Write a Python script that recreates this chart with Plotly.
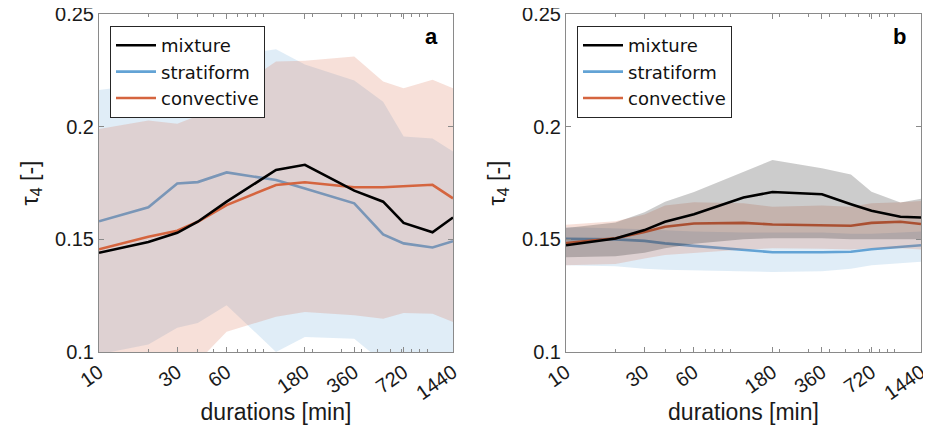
import plotly.graph_objects as go

# ---------------- data ----------------
durations = [10, 20, 30, 40, 60, 120, 180, 360, 540, 720, 1080, 1440]
tick_vals = [10, 30, 60, 180, 360, 720, 1440]
tick_text = ["10", "30", "60", "180", "360", "720", "1440"]
minor_vals = [20, 40, 50, 70, 80, 90, 100, 200, 300, 400, 500, 600, 700, 800, 900, 1000]
y_ticks = [0.1, 0.15, 0.2, 0.25]
y_tick_text = ["0.1", "0.15", "0.2", "0.25"]

# panel a
a_mix = [0.1440, 0.1488, 0.1529, 0.1578, 0.1667, 0.1808, 0.1831, 0.1716, 0.1667, 0.1573, 0.1531, 0.1597]
a_strat = [0.1580, 0.1642, 0.1748, 0.1754, 0.1797, 0.1763, 0.1726, 0.1660, 0.1522, 0.1482, 0.1464, 0.1492]
a_strat_hi = [0.2163, 0.2190, 0.2220, 0.2260, 0.2310, 0.2344, 0.2276, 0.2205, 0.2111, 0.1956, 0.1948, 0.1890]
a_strat_lo = [0.0990, 0.1033, 0.1108, 0.1129, 0.1208, 0.1000, 0.1067, 0.1059, 0.0954, 0.0950, 0.0930, 0.0940]
a_conv = [0.1456, 0.1511, 0.1538, 0.1578, 0.1652, 0.1741, 0.1753, 0.1731, 0.1731, 0.1735, 0.1742, 0.1682]
a_conv_hi = [0.1990, 0.2027, 0.2013, 0.2048, 0.2140, 0.2289, 0.2293, 0.2311, 0.2200, 0.2171, 0.2208, 0.2171]
a_conv_lo = [0.0950, 0.0970, 0.0980, 0.0957, 0.1090, 0.1156, 0.1178, 0.1163, 0.1148, 0.1173, 0.1170, 0.1133]

# panel b
b_mix = [0.1474, 0.1504, 0.1541, 0.1578, 0.1611, 0.1686, 0.1710, 0.1700, 0.1656, 0.1627, 0.1600, 0.1597]
b_mix_hi = [0.1550, 0.1575, 0.1620, 0.1667, 0.1710, 0.1800, 0.1852, 0.1815, 0.1788, 0.1711, 0.1664, 0.1680]
b_mix_lo = [0.1420, 0.1425, 0.1440, 0.1460, 0.1480, 0.1500, 0.1505, 0.1505, 0.1500, 0.1500, 0.1500, 0.1500]
b_strat = [0.1502, 0.1500, 0.1493, 0.1482, 0.1471, 0.1452, 0.1443, 0.1443, 0.1445, 0.1456, 0.1467, 0.1474]
b_strat_hi = [0.1555, 0.1550, 0.1545, 0.1540, 0.1535, 0.1530, 0.1530, 0.1530, 0.1525, 0.1525, 0.1530, 0.1535]
b_strat_lo = [0.1385, 0.1380, 0.1370, 0.1365, 0.1362, 0.1357, 0.1355, 0.1358, 0.1370, 0.1385, 0.1395, 0.1400]
b_conv = [0.1484, 0.1505, 0.1533, 0.1556, 0.1570, 0.1573, 0.1566, 0.1563, 0.1560, 0.1573, 0.1578, 0.1568]
b_conv_hi = [0.1565, 0.1580, 0.1610, 0.1650, 0.1665, 0.1660, 0.1645, 0.1650, 0.1645, 0.1660, 0.1665, 0.1670]
b_conv_lo = [0.1385, 0.1390, 0.1415, 0.1430, 0.1440, 0.1455, 0.1460, 0.1458, 0.1455, 0.1460, 0.1460, 0.1455]

names = ["mixture", "stratiform", "convective"]

# ---------------- style ----------------
C_MIX = "rgb(0,0,0)"
C_STR = "rgb(99,163,213)"
C_CON = "rgb(213,101,63)"
F_MIX = "rgba(0,0,0,0.2)"
F_STR = "rgba(99,163,213,0.2)"
F_CON = "rgba(213,101,63,0.2)"
FONT = "Liberation Sans, Helvetica, Arial, sans-serif"
LEG_FONT = "DejaVu Sans, Liberation Sans, sans-serif"
AX_COLOR = "#8a8a8a"
LW = 2.6

fig = go.Figure()


def band(x, lo, hi, fill, xa, ya):
    fig.add_trace(go.Scatter(
        x=list(x) + list(x)[::-1], y=list(hi) + list(lo)[::-1],
        fill="toself", fillcolor=fill, line=dict(width=0), mode="lines",
        hoverinfo="skip", showlegend=False, xaxis=xa, yaxis=ya))


def line(x, y, color, name, rank, xa, ya, legend):
    fig.add_trace(go.Scatter(
        x=x, y=y, mode="lines", line=dict(color=color, width=LW), name=name,
        legendrank=rank, xaxis=xa, yaxis=ya, legend=legend))


# panel a: stratiform, convective, mixture (fill then line)
band(durations, a_strat_lo, a_strat_hi, F_STR, "x", "y")
line(durations, a_strat, C_STR, names[1], 2, "x", "y", "legend")
band(durations, a_conv_lo, a_conv_hi, F_CON, "x", "y")
line(durations, a_conv, C_CON, names[2], 3, "x", "y", "legend")
line(durations, a_mix, C_MIX, names[0], 1, "x", "y", "legend")

# panel b
band(durations, b_strat_lo, b_strat_hi, F_STR, "x2", "y2")
line(durations, b_strat, C_STR, names[1], 2, "x2", "y2", "legend2")
band(durations, b_conv_lo, b_conv_hi, F_CON, "x2", "y2")
line(durations, b_conv, C_CON, names[2], 3, "x2", "y2", "legend2")
band(durations, b_mix_lo, b_mix_hi, F_MIX, "x2", "y2")
line(durations, b_mix, C_MIX, names[0], 1, "x2", "y2", "legend2")

W, H = 931, 441
OFF = 8  # page body margin offset (screen px -> figure px)


def px_x(sx):
    return (sx - OFF) / W


def px_y(sy):
    return (H - (sy - OFF)) / H


ydom = [px_y(352), px_y(14)]

xcommon = dict(
    type="log", range=[1, 3.158362492], tickmode="array", tickvals=tick_vals,
    ticktext=tick_text, tickangle=-35, ticks="inside", ticklen=5, tickwidth=1,
    tickcolor=AX_COLOR, showline=True, linecolor=AX_COLOR, linewidth=1,
    mirror="ticks", showgrid=False, zeroline=False, automargin=False,
    ticklabeloverflow="allow",
    minor=dict(tickvals=minor_vals, ticks="inside", ticklen=3, tickcolor=AX_COLOR, showgrid=False),
    tickfont=dict(family=FONT, size=20, color="#1a1a1a"),
    title=dict(text="durations [min]", font=dict(family=FONT, size=23, color="#1a1a1a"), standoff=0),
)
ycommon = dict(
    range=[0.1, 0.25], tickmode="array", tickvals=y_ticks, ticktext=y_tick_text,
    ticks="inside", ticklen=5, tickwidth=1, tickcolor=AX_COLOR, showline=True,
    linecolor=AX_COLOR, linewidth=1, mirror="ticks", showgrid=False, zeroline=False,
    automargin=False, ticklabeloverflow="allow",
    tickfont=dict(family=FONT, size=20, color="#1a1a1a"),
    title=dict(text="τ<sub>4</sub> [-]", font=dict(family=FONT, size=23, color="#1a1a1a"), standoff=10),
    domain=ydom,
)

legcommon = dict(
    bgcolor="white", bordercolor="#262626", borderwidth=1,
    font=dict(family=LEG_FONT, size=18, color="#111"), xanchor="left", yanchor="top",
    y=px_y(26), tracegroupgap=0, itemwidth=40,
)

fig.update_layout(
    width=W, height=H, margin=dict(l=0, r=0, t=0, b=0, autoexpand=False),
    paper_bgcolor="white", plot_bgcolor="white",
    xaxis=dict(domain=[px_x(99), px_x(453)], anchor="y", **xcommon),
    yaxis=dict(anchor="x", **ycommon),
    xaxis2=dict(domain=[px_x(566), px_x(921)], anchor="y2", **xcommon),
    yaxis2=dict(anchor="x2", **ycommon),
    legend=dict(x=px_x(110), **legcommon),
    legend2=dict(x=px_x(577), **legcommon),
    annotations=[
        dict(text="<b>a</b>", x=px_x(440), y=px_y(36), xref="paper", yref="paper",
             showarrow=False, xanchor="right", yanchor="middle",
             font=dict(family=FONT, size=22, color="black")),
        dict(text="<b>b</b>", x=px_x(908), y=px_y(36), xref="paper", yref="paper",
             showarrow=False, xanchor="right", yanchor="middle",
             font=dict(family=FONT, size=22, color="black")),
    ],
)

fig.write_html("out.html")
